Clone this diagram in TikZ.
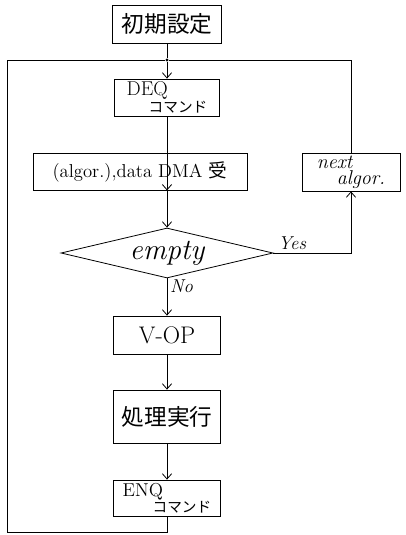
\documentclass[tikz,border=0pt]{standalone}
\usepackage{fontspec}
\newfontfamily\jp{Noto Sans CJK JP}
\usetikzlibrary{arrows,arrows.meta,shapes.geometric}

\begin{document}
\begin{tikzpicture}
[x=0.75pt,y=-0.75pt,
box/.style={draw,rectangle,inner sep=0pt,semithick},
decision/.style={draw,diamond,aspect=4.2,inner sep=0pt,semithick,minimum width=159pt,minimum height=37.5pt},
edge/.style={semithick},
end/.style={-{Straight Barb[length=4pt,width=7pt]}},
junction/.style={circle,fill=black,inner sep=0pt,minimum size=2.5pt},
label/.style={font=\itshape\fontsize{14}{14}\selectfont,inner sep=2pt}]
\useasboundingbox (0,0) rectangle (405,535);
\node[box,minimum width=81.75pt,minimum height=28.5pt,font=\jp\fontsize{17}{18}\selectfont] (init) at (167,24) {初期設定};
\node[box,minimum width=78.75pt,minimum height=27.75pt,align=left,font=\fontsize{15}{11}\selectfont] (deq) at (167,97.5) {DEQ\\\hspace{1.1em}{\jp\fontsize{11}{11}\selectfont コマンド}};
\node[box,minimum width=160.5pt,minimum height=27.75pt,font=\fontsize{14}{15}\selectfont] (dma) at (140,171.5) {(algor.),data DMA {\jp 受}};
\node[box,minimum width=73.5pt,minimum height=28.5pt,align=left,font=\itshape\fontsize{15}{12}\selectfont] (next) at (351,172) {next\\\hspace{1em}algor.};
\node[decision,font=\itshape\fontsize{22}{22}\selectfont] (empty) at (167,253) {empty};
\node[box,minimum width=80.25pt,minimum height=28.5pt,font=\fontsize{18}{18}\selectfont] (vop) at (167,335) {V-OP};
\node[box,minimum width=80.25pt,minimum height=39.75pt,font=\jp\fontsize{17}{18}\selectfont] (exec) at (167,416.5) {処理実行};
\node[box,minimum width=80.25pt,minimum height=27pt,align=left,font=\fontsize{14}{11}\selectfont] (enq) at (167,498) {ENQ\\\hspace{1.6em}{\jp\fontsize{11}{11}\selectfont コマンド}};
\node[junction] (top) at (167,60) {};
\coordinate (lb) at (7,532);
\coordinate (lt) at (7,60);
\draw[edge](init) -- (top) ;
\draw[edge,end](top) -- (deq) ;
\draw[edge,end](deq) -- (dma.south -| deq) ;
\draw[edge,end](dma.south -| empty) -- (empty) ;
\draw[edge,end](empty) -- node[label,pos=0.2,right]{No} (vop) ;
\draw[edge,end](empty.east) -| node[label,pos=0.12,above]{Yes} (next) ;
\draw[edge](next) |- (top) ;
\draw[edge,end](vop) -- (exec) ;
\draw[edge,end](exec) -- (enq) ;
\draw[edge](enq) |- (lb) -- (lt) -- (top) ;
\end{tikzpicture}
\end{document}
